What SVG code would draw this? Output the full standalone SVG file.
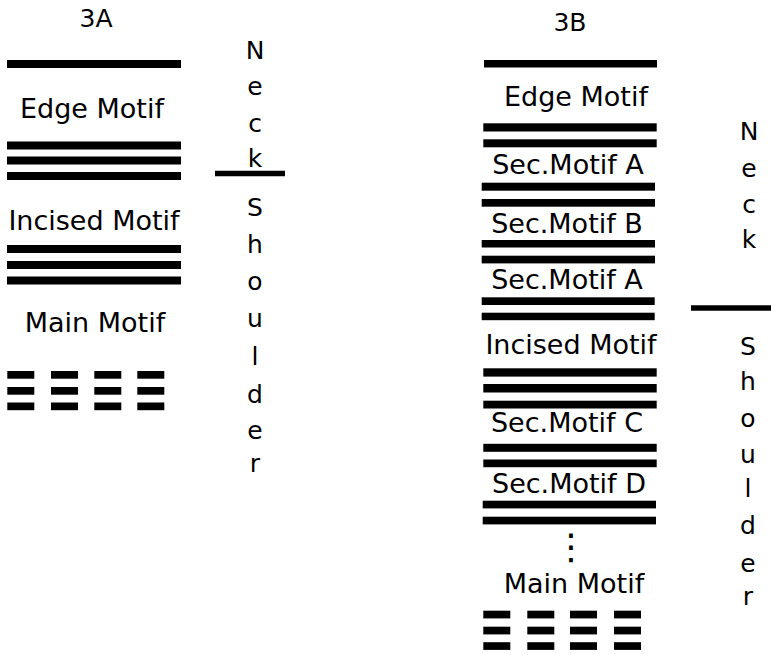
<svg xmlns="http://www.w3.org/2000/svg" width="771" height="655" viewBox="0 0 771 655">
<style>
.t{font-family:"DejaVu Sans","Liberation Sans",sans-serif;font-size:27px;fill:#000;text-anchor:middle}
.c{font-family:"DejaVu Sans","Liberation Sans",sans-serif;font-size:25px;fill:#000;text-anchor:middle}
.b{fill:#000}
.d{fill:#000}
.sep{stroke:#000;stroke-width:5.5}
</style>
<defs>
<g id="dashes">
<rect class="d" x="0" y="0" width="27" height="7.7"/>
<rect class="d" x="0" y="16" width="27" height="7.7"/>
<rect class="d" x="0" y="31.5" width="27" height="7.7"/>
</g>
</defs>
<rect width="771" height="655" fill="#fff"/>

<g id="panel-3A">
<text class="c" x="96" y="27">3A</text>
<g id="A-edge">
<rect class="b" x="7" y="60" width="174" height="8"/>
<text class="t" x="92" y="118">Edge Motif</text>
<rect class="b" x="7" y="141.5" width="174" height="8"/>
<rect class="b" x="7" y="156.5" width="174" height="8"/>
<rect class="b" x="7" y="172" width="174" height="8"/>
</g>
<g id="A-incised">
<text class="t" x="94" y="230">Incised Motif</text>
<rect class="b" x="7" y="245" width="174" height="8"/>
<rect class="b" x="7" y="261" width="174" height="8"/>
<rect class="b" x="7" y="276.5" width="174" height="8"/>
</g>
<g id="A-main">
<text class="t" x="95" y="331.5">Main Motif</text>
<use href="#dashes" x="7.3" y="371"/>
<use href="#dashes" x="51" y="371"/>
<use href="#dashes" x="94.3" y="371"/>
<use href="#dashes" x="137.3" y="371"/>
</g>
<g id="A-neck">
<text class="c" x="255" y="59">N</text>
<text class="c" x="255" y="95">e</text>
<text class="c" x="255" y="132">c</text>
<text class="c" x="255" y="167">k</text>
</g>
<g id="A-shoulder">
<text class="c" x="255" y="216">S</text>
<text class="c" x="255" y="253">h</text>
<text class="c" x="255" y="290">o</text>
<text class="c" x="255" y="327">u</text>
<text class="c" x="255" y="365">l</text>
<text class="c" x="255" y="403">d</text>
<text class="c" x="255" y="439">e</text>
<text class="c" x="255" y="472">r</text>
</g>
</g>

<g id="panel-3B">
<text class="c" x="570" y="31">3B</text>
<g id="B-edge">
<rect class="b" x="484" y="60" width="173" height="7.5"/>
<text class="t" x="576" y="106">Edge Motif</text>
<rect class="b" x="483.3" y="123.3" width="173.4" height="8.2"/>
<rect class="b" x="483.3" y="139.3" width="173.4" height="8"/>
</g>
<g id="B-secA1">
<text class="t" x="568" y="174">Sec.Motif A</text>
<rect class="b" x="481.7" y="182.7" width="173.3" height="8"/>
<rect class="b" x="481.7" y="199" width="173.3" height="7.7"/>
</g>
<g id="B-secB">
<text class="t" x="567" y="233">Sec.Motif B</text>
<rect class="b" x="481.7" y="240" width="173.3" height="7.5"/>
<rect class="b" x="481.7" y="255.7" width="173.3" height="7.7"/>
</g>
<g id="B-secA2">
<text class="t" x="567" y="289">Sec.Motif A</text>
<rect class="b" x="481.7" y="297.3" width="173" height="7.7"/>
<rect class="b" x="481.7" y="312.7" width="173" height="7.5"/>
</g>
<g id="B-incised">
<text class="t" x="571" y="354">Incised Motif</text>
<rect class="b" x="483.3" y="368.3" width="173.4" height="8.3"/>
<rect class="b" x="483.3" y="384" width="173.4" height="8.5"/>
<rect class="b" x="483.3" y="400.7" width="173.4" height="7.8"/>
</g>
<g id="B-secC">
<text class="t" x="567" y="431.7">Sec.Motif C</text>
<rect class="b" x="483.3" y="443.8" width="173.4" height="8"/>
<rect class="b" x="483.3" y="459.5" width="173.4" height="7.7"/>
</g>
<g id="B-secD">
<text class="t" x="569" y="492.7">Sec.Motif D</text>
<rect class="b" x="482.7" y="500.7" width="173.3" height="7.7"/>
<rect class="b" x="482.7" y="516.7" width="173.3" height="7.7"/>
</g>
<g id="B-ellipsis">
<text class="c" x="571" y="559" style="font-size:36px">⋮</text>
</g>
<g id="B-main">
<text class="t" x="574" y="592.5">Main Motif</text>
<use href="#dashes" x="483.3" y="610.7"/>
<use href="#dashes" x="527.3" y="610.7"/>
<use href="#dashes" x="570" y="610.7"/>
<use href="#dashes" x="614" y="610.7"/>
</g>
<g id="B-neck">
<text class="c" x="749" y="140">N</text>
<text class="c" x="749" y="177">e</text>
<text class="c" x="749" y="213">c</text>
<text class="c" x="749" y="248">k</text>
</g>
<g id="B-shoulder">
<text class="c" x="748" y="355">S</text>
<text class="c" x="748" y="390">h</text>
<text class="c" x="748" y="427">o</text>
<text class="c" x="748" y="463">u</text>
<text class="c" x="748" y="497">l</text>
<text class="c" x="748" y="534">d</text>
<text class="c" x="748" y="572">e</text>
<text class="c" x="748" y="605">r</text>
</g>
</g>

<g id="connectors">
<line class="sep" x1="215" y1="173.5" x2="285" y2="173.5"/>
<line class="sep" x1="691" y1="308" x2="771" y2="308"/>
</g>
</svg>
